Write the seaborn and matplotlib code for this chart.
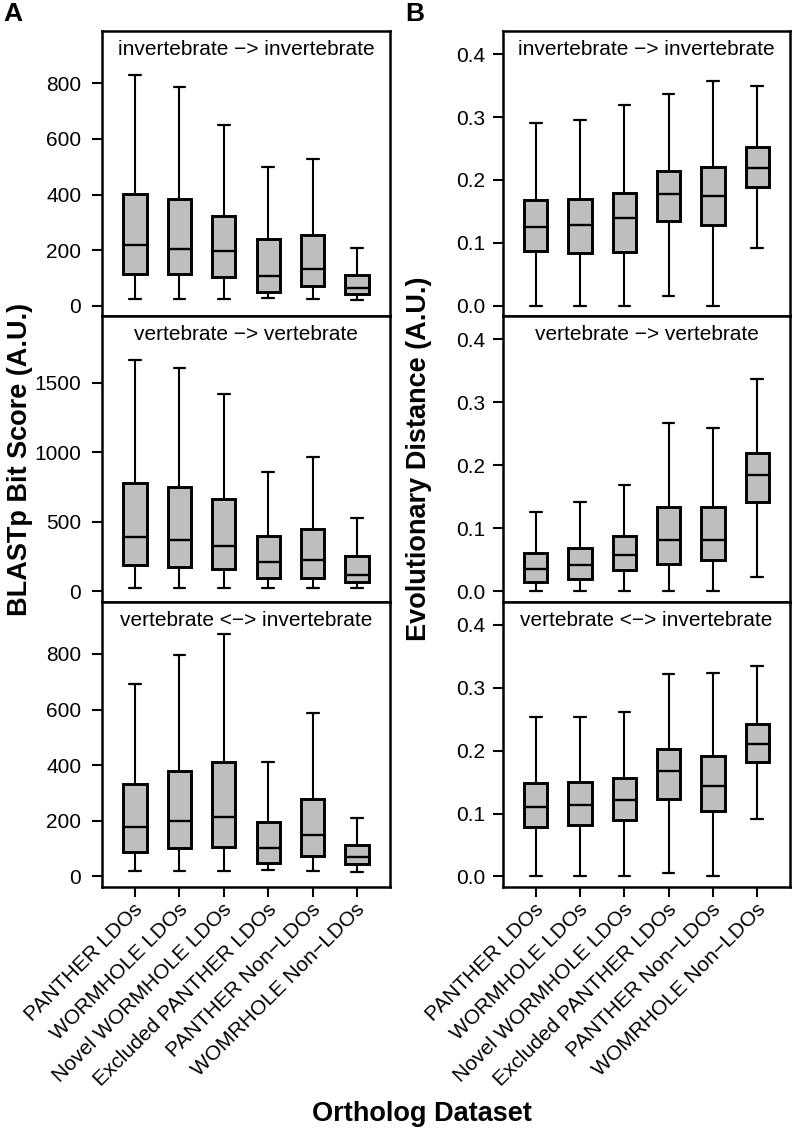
import numpy as np
import pandas as pd
import matplotlib
matplotlib.use("Agg")
import matplotlib.pyplot as plt
from matplotlib.transforms import ScaledTranslation
import seaborn as sns

# ---------------- data (five-number summaries: min, Q1, median, Q3, max) -------------
categories = ["PANTHER LDOs", "WORMHOLE LDOs", "Novel WORMHOLE LDOs",
              "Excluded PANTHER LDOs", "PANTHER Non\u2212LDOs", "WOMRHOLE Non\u2212LDOs"]

panel_titles = ["invertebrate \u2212> invertebrate",
                "vertebrate \u2212> vertebrate",
                "vertebrate <\u2212> invertebrate"]

bits_inv_inv = [(26, 116, 218, 403, 829), (26, 116, 205, 385, 787),
                (26, 103, 198, 324, 650), (28, 50, 108, 240, 498),
                (24, 70, 132, 253, 529), (19, 43, 65, 109, 209)]
bits_vert_vert = [(24, 185, 386, 774, 1663), (24, 175, 369, 748, 1601),
                  (24, 158, 323, 661, 1414), (24, 91, 208, 398, 858),
                  (24, 96, 223, 443, 966), (19, 62, 117, 249, 525)]
bits_vert_inv = [(20, 89, 176, 332, 693), (20, 102, 199, 379, 795),
                 (20, 107, 212, 413, 872), (23, 49, 102, 197, 413),
                 (20, 72, 148, 279, 589), (17, 46, 70, 112, 211)]

dist_inv_inv = [(0.0, 0.087, 0.126, 0.168, 0.290), (0.0, 0.084, 0.128, 0.169, 0.296),
                (0.0, 0.085, 0.140, 0.180, 0.319), (0.015, 0.134, 0.178, 0.215, 0.336),
                (0.0, 0.129, 0.175, 0.220, 0.357), (0.092, 0.189, 0.219, 0.253, 0.349)]
dist_vert_vert = [(0.0, 0.015, 0.035, 0.060, 0.126), (0.0, 0.020, 0.041, 0.068, 0.141),
                  (0.0, 0.033, 0.058, 0.087, 0.168), (0.0, 0.043, 0.081, 0.134, 0.268),
                  (0.0, 0.049, 0.081, 0.133, 0.259), (0.022, 0.141, 0.184, 0.219, 0.337)]
dist_vert_inv = [(0.0, 0.078, 0.111, 0.148, 0.253), (0.0, 0.082, 0.114, 0.150, 0.253),
                 (0.0, 0.089, 0.121, 0.157, 0.261), (0.005, 0.123, 0.167, 0.203, 0.322),
                 (0.001, 0.104, 0.144, 0.192, 0.323), (0.091, 0.182, 0.211, 0.242, 0.334)]

bits_yticks = [[0, 200, 400, 600, 800], [0, 500, 1000, 1500], [0, 200, 400, 600, 800]]
bits_ylims = [(0, 950), (0, 1900), (0, 950)]
dist_yticks = [0.0, 0.1, 0.2, 0.3, 0.4]
dist_ylim = (0, 0.42)

# ---------------- style -------------
sns.set_style("ticks")
plt.rcParams["font.family"] = ["Liberation Sans", "DejaVu Sans"]
plt.rcParams["axes.linewidth"] = 1.8
for k in ["text.color", "axes.labelcolor", "xtick.color", "ytick.color",
          "axes.edgecolor"]:
    plt.rcParams[k] = "black"

W, H = 792, 1131
fig = plt.figure(figsize=(W / 100, H / 100), dpi=100)

top_px, bot_px = 31, 887
ph = (bot_px - top_px) / 3
cols = [(102, 390), (503, 790)]

def to_long(summaries):
    rows = []
    for cat, vals in zip(categories, summaries):
        for v in vals:
            rows.append({"dataset": cat, "value": v})
    return pd.DataFrame(rows)

def expand(lim):
    r = lim[1] - lim[0]
    return (lim[0] - 0.04 * r, lim[1] + 0.04 * r)

bits_panels = [bits_inv_inv, bits_vert_vert, bits_vert_inv]
dist_panels = [dist_inv_inv, dist_vert_vert, dist_vert_inv]

for c, (x0, x1) in enumerate(cols):
    for r in range(3):
        y_top = top_px + r * ph
        ax = fig.add_axes([x0 / W, 1 - (y_top + ph) / H, (x1 - x0) / W, ph / H])
        summaries = bits_panels[r] if c == 0 else dist_panels[r]
        df = to_long(summaries)
        sns.boxplot(data=df, x="dataset", y="value", ax=ax, order=categories,
                    whis=(0, 100), width=0.525, color="#BEBEBE", saturation=1,
                    linecolor="black", fliersize=0,
                    boxprops=dict(linewidth=2.1),
                    whiskerprops=dict(linewidth=1.5),
                    capprops=dict(linewidth=1.6),
                    medianprops=dict(linewidth=1.7))
        ax.set_xlim(-0.74, 5.74)
        if c == 0:
            ax.set_ylim(*expand(bits_ylims[r]))
            ax.set_yticks(bits_yticks[r])
            ax.set_yticklabels([str(t) for t in bits_yticks[r]])
            ypad = 8
        else:
            ax.set_ylim(*expand(dist_ylim))
            ax.set_yticks(dist_yticks)
            ax.set_yticklabels([f"{t:.1f}" for t in dist_yticks])
            ypad = 6
        ax.tick_params(axis="y", length=7, width=1.5, labelsize=15, pad=ypad,
                       direction="out", left=True, colors="black")
        ax.set_xlabel("")
        ax.set_ylabel("")
        for s in ax.spines.values():
            s.set_visible(True)
            s.set_linewidth(1.8)
            s.set_color("black")
        ax.text(0.5, 0.935, panel_titles[r], transform=ax.transAxes,
                ha="center", va="center", fontsize=15, color="black")
        if r < 2:
            ax.tick_params(axis="x", bottom=False, labelbottom=False)
        else:
            ax.set_xticks(range(len(categories)))
            ax.set_xticklabels(categories, rotation=45, ha="right",
                               va="center", rotation_mode="anchor", fontsize=15)
            ax.tick_params(axis="x", length=7, width=1.5, pad=7, direction="out",
                           bottom=True, colors="black")
            off = ScaledTranslation(5 / 100, 0, fig.dpi_scale_trans)
            for lab in ax.get_xticklabels():
                lab.set_transform(lab.get_transform() + off)

mid_y = 1 - ((top_px + bot_px) / 2) / H
fig.text(20 / W, mid_y, "BLASTp Bit Score (A.U.)", rotation=90, ha="center",
         va="center", fontsize=19.5, fontweight="bold", color="black")
fig.text(419 / W, mid_y, "Evolutionary Distance (A.U.)", rotation=90, ha="center",
         va="center", fontsize=19.5, fontweight="bold", color="black")
fig.text(422 / W, 1 - 1114 / H, "Ortholog Dataset", ha="center", va="center",
         fontsize=19.5, fontweight="bold", color="black")
fig.text(3 / W, 1 - 14 / H, "A", ha="left", va="center", fontsize=19,
         fontweight="bold", color="black")
fig.text(405 / W, 1 - 14 / H, "B", ha="left", va="center", fontsize=19,
         fontweight="bold", color="black")

fig.savefig("out.png", dpi=100)
